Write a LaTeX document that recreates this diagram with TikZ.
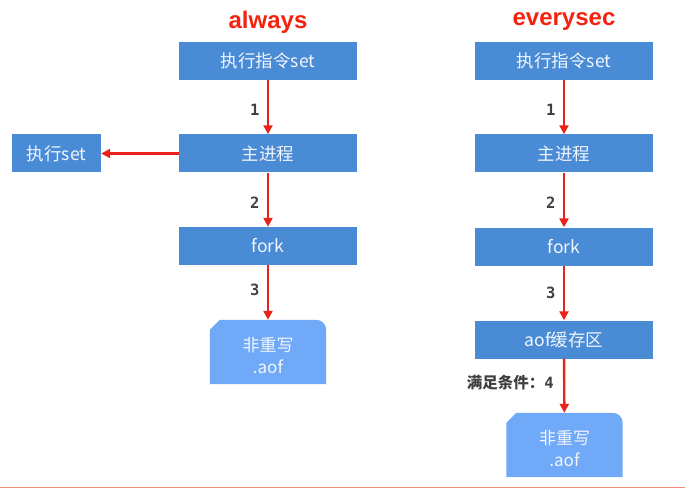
\documentclass[tikz,border=0pt]{standalone}
\usepackage{fontspec}
\usetikzlibrary{arrows.meta}

\newfontfamily\cjk{Noto Sans CJK SC}
\newfontfamily\titlefont{Liberation Sans}
\newfontfamily\numfont{DejaVu Sans Mono}

\definecolor{BoxColor}{HTML}{4A8BD6}
\definecolor{FileColor}{HTML}{6FA9F7}
\definecolor{BoxText}{HTML}{F2F6FC}
\definecolor{ArrowColor}{HTML}{E8231A}
\definecolor{TitleColor}{HTML}{F5220F}
\definecolor{LabelColor}{HTML}{404040}
\definecolor{EdgeLine}{HTML}{F28C78}

% file shape: cut top-left corner, rounded top-right corner
\newcommand\aoffile[1]{%
  \fill[FileColor] (#1.south west) -- ([yshift=-10pt]#1.north west)
    -- ([xshift=10pt]#1.north west)
    {[rounded corners=10pt] -- (#1.north east) -- ([yshift=-20pt]#1.north east)}
    -- (#1.south east) -- cycle;}

\begin{document}
\begin{tikzpicture}[x=1pt,y=-1pt,
  stepbox/.style={fill=BoxColor,text=BoxText,minimum width=178pt,
    minimum height=38pt,inner sep=0pt,font=\cjk\fontsize{17.5}{19}\selectfont},
  filebox/.style={text=BoxText,minimum width=116pt,minimum height=64pt,
    inner sep=0pt,align=center,font=\cjk\fontsize{17}{22}\selectfont},
  headline/.style={text=TitleColor,font=\titlefont\bfseries\fontsize{24}{24}\selectfont},
  flow/.style={draw=ArrowColor,line width=2.4pt,-{Triangle[width=9pt,length=9pt]}},
  steplbl/.style={text=LabelColor,font=\numfont\bfseries\fontsize{15.5}{16}\selectfont,left=4pt}
]
  \useasboundingbox (0,0) rectangle (685,489);

  % ===== always =====
  \node[headline] (tA) at (268,22) {always};
  \node[stepbox] (cmdA)  at (268,61)    {执行指令set};
  \node[stepbox] (mainA) at (268,153.5) {主进程};
  \node[stepbox,minimum width=89pt] (execA) at (56.5,153.5) {执行set};
  \node[stepbox] (forkA) at (268,246)   {fork};
  \node[filebox] (fileA) at (268,352)   {};
  \aoffile{fileA}
  \node[filebox] at ([yshift=-4pt]fileA.center) {非重写\\.aof};

  \draw[flow] (cmdA)  -- node[steplbl,pos=.55] {1} (mainA);
  \draw[flow] (mainA.west) -- (execA.east);
  \draw[flow] (mainA) -- node[steplbl,pos=.55] {2} (forkA);
  \draw[flow] (forkA) -- node[steplbl,pos=.45] {3} (fileA);

  % ===== everysec =====
  \node[headline] (tB) at (564,22) {everysec};
  \node[stepbox] (cmdB)  at (564,61)    {执行指令set};
  \node[stepbox] (mainB) at (564,153.5) {主进程};
  \node[stepbox] (forkB) at (564,246.5) {fork};
  \node[stepbox] (bufB)  at (564,339.5) {aof缓存区};
  \node[filebox] (fileB) at (564.5,445) {};
  \aoffile{fileB}
  \node[filebox] at ([yshift=-4pt]fileB.center) {非重写\\.aof};

  \draw[flow] (cmdB)  -- node[steplbl,pos=.55] {1} (mainB);
  \draw[flow] (mainB) -- node[steplbl,pos=.55] {2} (forkB);
  \draw[flow] (forkB) -- node[steplbl,pos=.5] {3} (bufB);
  \draw[flow] (bufB)  -- node[steplbl,pos=.45,left=2pt] {{\cjk\bfseries 满足条件：}4} (fileB);

  % ===== bottom edge =====
  \draw[EdgeLine,line width=1.5pt] (0,487.5) -- (685,487.5);
\end{tikzpicture}
\end{document}
